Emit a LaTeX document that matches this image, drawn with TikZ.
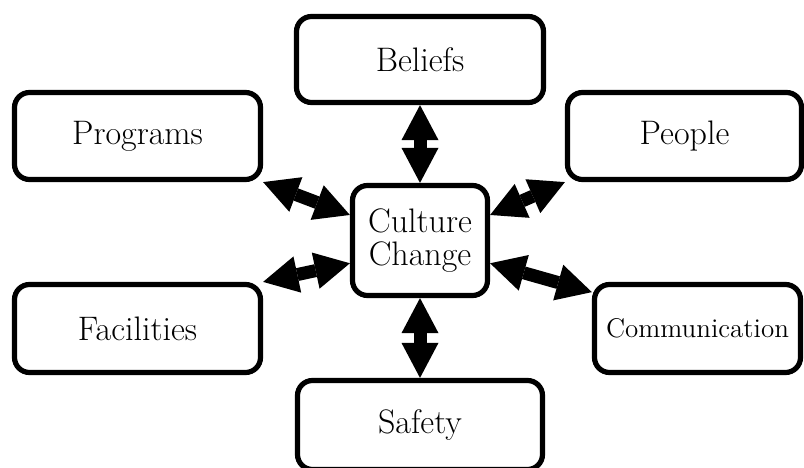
\documentclass[tikz,border=0pt]{standalone}
\usepackage{tikz}
\usetikzlibrary{arrows.meta}

\begin{document}
\begin{tikzpicture}[x=0.5bp,y=-0.5bp,
        box/.style={draw, line width=2.6bp, rounded corners=7.5bp, inner sep=0pt, align=center,
            font=\fontsize{17bp}{16.5bp}\selectfont},
        link/.style={line width=6.5bp,
            {Triangle[width=18.5bp,length=17.5bp,line width=0pt]}-{Triangle[width=18.5bp,length=17.5bp,line width=0pt]}}]
        \useasboundingbox (0,0) rectangle (804,468);

        % Centre box
        \node[box, minimum width=67.5bp, minimum height=55bp] (cc) at (420,240.5) {Culture\\Change};

        % Outer boxes
        \node[box, minimum width=123.5bp, minimum height=43bp] (beliefs) at (420,59.5) {Beliefs};
        \node[box, minimum width=123bp, minimum height=43.5bp] (programs) at (137.5,136) {Programs};
        \node[box, minimum width=117bp, minimum height=43.5bp] (people) at (684.5,136) {People};
        \node[box, minimum width=123bp, minimum height=44bp] (facilities) at (137.5,328.5) {Facilities};
        \node[box, minimum width=103bp, minimum height=44bp,
            font=\fontsize{13.5bp}{14bp}\selectfont] (comm) at (697.5,328.5) {Communication};
        \node[box, minimum width=122.5bp, minimum height=44.5bp] (safety) at (420,425) {Safety};

        % Arrows
        \foreach \a/\b in {beliefs.south/cc.north, programs.south east/cc.160,
                people.south west/cc.20, facilities.north east/cc.198,
                comm.161/cc.-18, safety.north/cc.south} {
            \draw[link] (\a) -- (\b);
        }
    \end{tikzpicture}
\end{document}
